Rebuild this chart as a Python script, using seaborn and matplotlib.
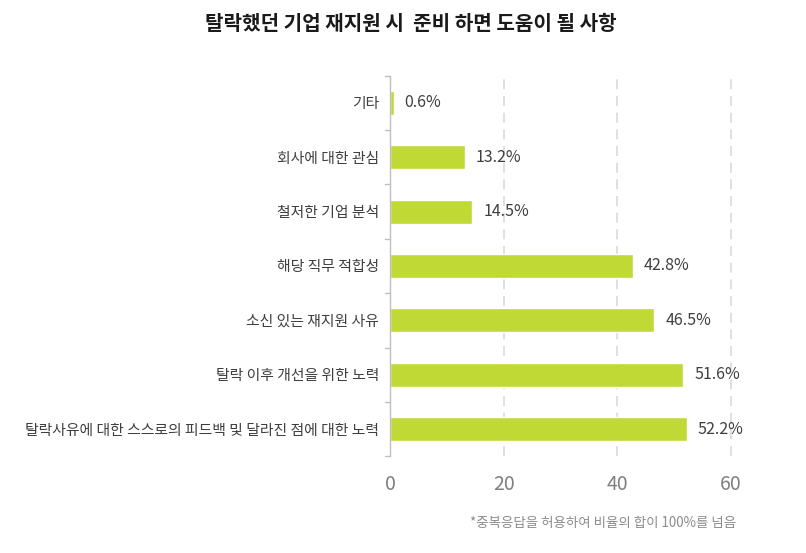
import pandas as pd
import matplotlib.pyplot as plt
import seaborn as sns

# Survey categories (top to bottom) and share of responses in percent
categories = [
    "기타",
    "회사에 대한 관심",
    "철저한 기업 분석",
    "해당 직무 적합성",
    "소신 있는 재지원 사유",
    "탈락 이후 개선을 위한 노력",
    "탈락사유에 대한 스스로의 피드백 및 달라진 점에 대한 노력",
]
shares = [0.6, 13.2, 14.5, 42.8, 46.5, 51.6, 52.2]
x_ticks = [0, 20, 40, 60]

df = pd.DataFrame({"category": categories, "share": shares})

sns.set_style("white")
plt.rcParams["font.family"] = ["Noto Sans CJK KR", "DejaVu Sans"]

bar_color = "#C0D935"
text_color = "#3F3F3F"
axis_color = "#BFBFBF"

fig = plt.figure(figsize=(8.06, 5.53), dpi=100)
ax = fig.add_axes([0.484, 0.175, 0.423, 0.688])

_ = sns.barplot(
    data=df,
    x="share",
    y="category",
    orient="h",
    color=bar_color,
    width=0.44,
    saturation=1,
    ax=ax,
)

ax.set_xlim(0, 60)
ax.set_ylim(len(categories) - 0.5, -0.5)
ax.set_xticks(x_ticks)
ax.set_xticklabels([str(t) for t in x_ticks], fontsize=14, color="#7F7F7F")
ax.tick_params(axis="x", length=0, pad=13)
ax.set_yticks(range(len(categories)))
ax.set_yticklabels(categories, fontsize=10.7, color=text_color)
ax.tick_params(axis="y", length=0, pad=8)
ax.set_xlabel("")
ax.set_ylabel("")

# dashed vertical gridlines
for t in x_ticks[1:]:
    ax.axvline(t, color="#DADADA", linestyle=(0, (6, 4)), linewidth=1.2,
               zorder=0, clip_on=False)

# category boundary ticks on the left spine
for b in range(len(categories) + 1):
    ax.plot([-0.9, 0], [b - 0.5, b - 0.5], color=axis_color, linewidth=1,
            clip_on=False)

for side in ["top", "right", "bottom"]:
    ax.spines[side].set_visible(False)
ax.spines["left"].set_color(axis_color)
ax.spines["left"].set_linewidth(1)

# value labels
for i, v in enumerate(shares):
    ax.text(v + 1.9, i, f"{v:.1f}%", va="center", ha="left",
            fontsize=11.5, color=text_color, clip_on=False)

fig.text(0.51, 0.958, "탈락했던 기업 재지원 시  준비 하면 도움이 될 사항",
         ha="center", va="center", fontsize=14.5, fontweight="bold",
         color="#1A1A1A")
fig.text(0.913, 0.055, "*중복응답을 허용하여 비율의 합이 100%를 넘음",
         ha="right", va="center", fontsize=9.7, color="#8C8C8C")

plt.savefig("out.png", dpi=100)
